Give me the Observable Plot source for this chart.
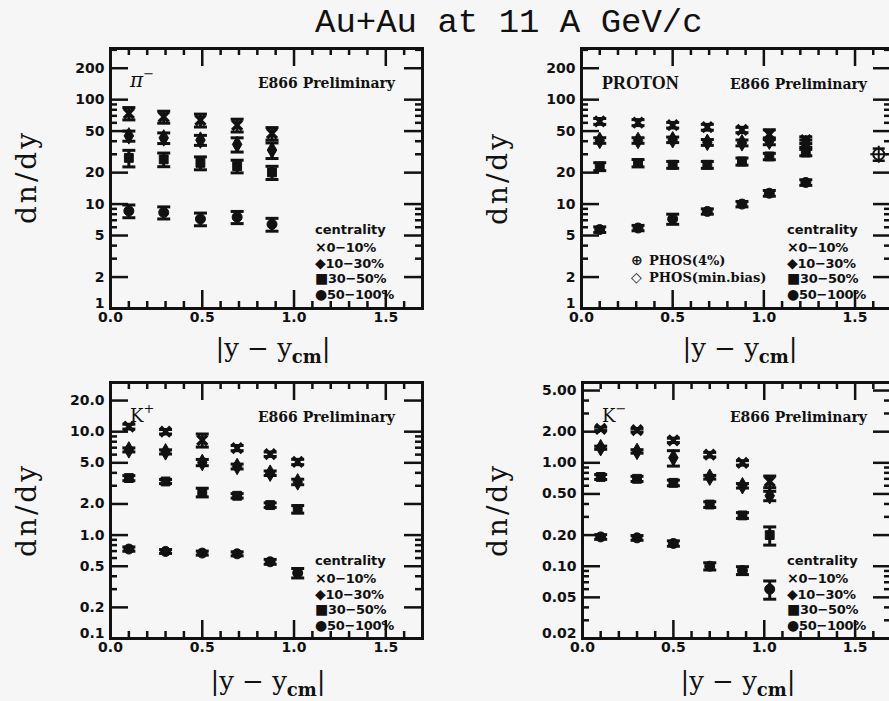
<!DOCTYPE html>
<html><head><meta charset="utf-8">
<script src="https://cdn.jsdelivr.net/npm/d3@7"></script>
<script src="https://cdn.jsdelivr.net/npm/@observablehq/plot@0.6"></script>
<style>
html,body{margin:0;padding:0;background:#f6f6f6;}
#wrap{position:relative;width:889px;height:701px;overflow:hidden;background:#f6f6f6;}
#wrap > * {position:absolute;}
</style></head><body><div id="wrap"></div>
<script>
// ---------- data ----------
const centralities = ["0−10%", "10−30%", "30−50%", "50−100%"];
const xTickLabels = [0.0, 0.5, 1.0, 1.5];
const xMajorTicks = [0.5, 1.0, 1.5];
const xMinorTicks = [0.1, 0.2, 0.3, 0.4, 0.6, 0.7, 0.8, 0.9, 1.1, 1.2, 1.3, 1.4, 1.6];

// pi-
const piX = [0.10, 0.29, 0.49, 0.69, 0.88];
const pi0 = [74, 68.5, 63.7, 57, 47.5];
const pi0Err = [10, 9, 9, 8, 6.5];
const pi1 = [45, 43, 41, 37.3, 32.9];
const pi1Err = [5, 5, 4.5, 5.8, 5.6];
const pi2 = [27.7, 26.8, 24.8, 23.1, 20.1];
const pi2Err = [5, 4, 3.5, 3.2, 2.9];
const pi3 = [8.6, 8.3, 7.2, 7.5, 6.4];
const pi3Err = [1.2, 1.1, 1.0, 1.0, 0.9];

// proton
const pX = [0.10, 0.31, 0.50, 0.69, 0.88, 1.03, 1.23];
const p0 = [62, 60.4, 57, 54.5, 51.3, 46.5, 41];
const p0Err = [4, 4, 3.5, 3.5, 3, 5, 3];
const p1 = [40.7, 40.7, 41.3, 39, 38.6, 40, 38];
const p1Err = [2.5, 2.5, 2.5, 2.5, 2.5, 3, 3];
const p2 = [22.9, 24.7, 23.8, 23.8, 25.6, 28.6, 31.2];
const p2Err = [2, 2, 1.8, 1.8, 2, 2, 2.2];
const p3 = [5.7, 5.9, 7.2, 8.5, 10.0, 12.7, 16.1];
const p3Err = [0.35, 0.35, 0.8, 0.5, 0.6, 0.8, 1.0];
const phosX = [1.63];
const phosY = [30];
const phosErr = [4];

// K+
const kpX = [0.10, 0.30, 0.50, 0.69, 0.87, 1.02];
const kp0 = [11.2, 10.0, 8.3, 6.95, 6.06, 5.1];
const kp0Err = [0.6, 0.5, 1.2, 0.4, 0.3, 0.3];
const kp1 = [6.67, 6.38, 5.04, 4.61, 3.97, 3.27];
const kp1Err = [0.3, 0.3, 0.35, 0.25, 0.2, 0.2];
const kp2 = [3.56, 3.30, 2.59, 2.40, 1.95, 1.78];
const kp2Err = [0.2, 0.15, 0.25, 0.12, 0.1, 0.15];
const kp3 = [0.733, 0.695, 0.67, 0.659, 0.552, 0.43];
const kp3Err = [0.035, 0.03, 0.03, 0.03, 0.03, 0.045];

// K-
const kmX = [0.10, 0.30, 0.50, 0.70, 0.88, 1.03];
const km0 = [2.13, 2.07, 1.65, 1.20, 1.00, 0.66];
const km0Err = [0.08, 0.08, 0.08, 0.06, 0.05, 0.085];
const km1 = [1.40, 1.29, 1.12, 0.726, 0.60, 0.48];
const km1Err = [0.05, 0.05, 0.19, 0.03, 0.03, 0.05];
const km2 = [0.73, 0.70, 0.64, 0.395, 0.31, 0.20];
const km2Err = [0.04, 0.04, 0.04, 0.025, 0.02, 0.04];
const km3 = [0.192, 0.188, 0.166, 0.10, 0.091, 0.060];
const km3Err = [0.01, 0.01, 0.01, 0.008, 0.008, 0.012];

// y axis ticks
const topYLabels = [1, 2, 5, 10, 20, 50, 100, 200];
const topYMinor = [3, 4, 6, 7, 8, 9, 30, 40, 60, 70, 80, 90, 300];
const kpYLabels = [0.1, 0.2, 0.5, 1, 2, 5, 10, 20];
const kpYMinor = [0.3, 0.4, 0.6, 0.7, 0.8, 0.9, 3, 4, 6, 7, 8, 9];
const kmYLabels = [0.02, 0.05, 0.1, 0.2, 0.5, 1, 2, 5];
const kmYMinor = [0.03, 0.04, 0.06, 0.07, 0.08, 0.09, 0.3, 0.4, 0.6, 0.7, 0.8, 0.9, 3, 4];

// ---------- drawing ----------
const ink = "#111";
const capSymbol = {draw(ctx, size) { const r = Math.sqrt(size / Math.PI); ctx.moveTo(-r, 0); ctx.lineTo(r, 0); }};

function rowsOf(x, ys, errs) {
  const rows = [];
  ys.forEach((ser, c) => ser.forEach((v, j) => {
    if (v != null) rows.push({x: x[j], y: v, lo: v - errs[c][j], hi: v + errs[c][j], c});
  }));
  return rows;
}

function panel(o) {
  const fw = o.width - o.ml - o.mr, fh = o.height - o.mt - o.mb;
  const rows = rowsOf(o.x, o.ys, o.errs);
  const marks = [
    Plot.ruleX(xMajorTicks, {x: d => d, insetTop: fh - 18, stroke: ink, strokeWidth: 2.5}),
    Plot.ruleX(xMajorTicks, {x: d => d, insetBottom: fh - 18, stroke: ink, strokeWidth: 2.5}),
    Plot.ruleX(xMinorTicks, {x: d => d, insetTop: fh - 7, stroke: ink, strokeWidth: 2.5}),
    Plot.ruleX(xMinorTicks, {x: d => d, insetBottom: fh - 7, stroke: ink, strokeWidth: 2.5}),
    Plot.ruleY(o.yLabels.slice(1), {y: d => d, insetRight: fw - 18, stroke: ink, strokeWidth: 2.5}),
    Plot.ruleY(o.yLabels.slice(1), {y: d => d, insetLeft: fw - 18, stroke: ink, strokeWidth: 2.5}),
    Plot.ruleY(o.yMinor, {y: d => d, insetRight: fw - 7, stroke: ink, strokeWidth: 2.5}),
    Plot.ruleY(o.yMinor, {y: d => d, insetLeft: fw - 7, stroke: ink, strokeWidth: 2.5}),
    Plot.ruleX(rows, {x: "x", y1: "lo", y2: "hi", stroke: ink, strokeWidth: 3}),
    Plot.dot(rows, {x: "x", y: "lo", symbol: capSymbol, r: 6.5, fill: "none", stroke: ink, strokeWidth: 3}),
    Plot.dot(rows, {x: "x", y: "hi", symbol: capSymbol, r: 6.5, fill: "none", stroke: ink, strokeWidth: 3}),
    Plot.dot(rows.filter(d => d.c === 0), {x: "x", y: "y", symbol: "times", r: 4.5, fill: "none", stroke: ink, strokeWidth: 3.5}),
    Plot.dot(rows.filter(d => d.c === 1), {x: "x", y: "y", symbol: "diamond", r: 5, fill: ink, stroke: ink, strokeWidth: 1}),
    Plot.dot(rows.filter(d => d.c === 2), {x: "x", y: "y", symbol: "square", r: 5, fill: ink, stroke: ink, strokeWidth: 1}),
    Plot.dot(rows.filter(d => d.c === 3), {x: "x", y: "y", symbol: "circle", r: 5, fill: ink, stroke: ink, strokeWidth: 1})
  ];
  if (o.phos) {
    const ph = o.phos.x.map((x, i) => ({x, y: o.phos.y[i], lo: o.phos.y[i] - o.phos.err[i], hi: o.phos.y[i] + o.phos.err[i]}));
    marks.push(
      Plot.ruleX(ph, {x: "x", y1: "lo", y2: "hi", stroke: ink, strokeWidth: 2}),
      Plot.dot(ph, {x: "x", y: "lo", symbol: capSymbol, r: 6, fill: "none", stroke: ink, strokeWidth: 2.5}),
      Plot.dot(ph, {x: "x", y: "hi", symbol: capSymbol, r: 6, fill: "none", stroke: ink, strokeWidth: 2.5}),
      Plot.dot(ph, {x: "x", y: "y", symbol: "circle", r: 5.5, fill: "#f6f6f6", stroke: ink, strokeWidth: 2}),
      Plot.dot(ph, {x: "x", y: "y", symbol: "plus", r: 5.5, fill: "none", stroke: ink, strokeWidth: 2})
    );
  }
  const lastY = o.yLabels.slice(1);
  marks.push(
    Plot.axisX({ticks: xTickLabels, tickSize: 0, tickPadding: 4, tickFormat: d3.format(".1f"), label: null}),
    // y tick labels (log scales would otherwise drop some of them)
    Plot.text(lastY, {y: d => d, text: d => o.fmt(d), frameAnchor: "left", textAnchor: "end", dx: -6, fill: ink}),
    Plot.text(o.yLabels.slice(0, 1), {y: d => d, text: d => o.fmt(d), frameAnchor: "left", textAnchor: "end", dx: -6, dy: -5, fill: ink}),
    Plot.frame({stroke: ink, strokeWidth: 3})
  );
  const svg = Plot.plot({
    width: o.width, height: o.height,
    marginLeft: o.ml, marginRight: o.mr, marginTop: o.mt, marginBottom: o.mb,
    x: {domain: [0, 1.7]},
    y: {type: "log", domain: o.yDomain, axis: null},
    style: {background: "transparent", color: ink, fontFamily: "DejaVu Sans", fontSize: "14px", fontWeight: "bold", overflow: "visible"},
    marks
  });
  svg.style.left = o.left + "px";
  svg.style.top = o.top + "px";
  svg.style.maxWidth = "none";
  return svg;
}

const wrap = document.getElementById("wrap");
wrap.appendChild(panel({left: 0, top: 18, width: 440, height: 330, ml: 110, mr: 18, mt: 30, mb: 40,
  x: piX, ys: [pi0, pi1, pi2, pi3], errs: [pi0Err, pi1Err, pi2Err, pi3Err],
  yDomain: [1, 309], yLabels: topYLabels, yMinor: topYMinor, fmt: d3.format("d")}));
wrap.appendChild(panel({left: 440, top: 18, width: 460, height: 330, ml: 141, mr: 9, mt: 30, mb: 40,
  x: pX, ys: [p0, p1, p2, p3], errs: [p0Err, p1Err, p2Err, p3Err],
  phos: {x: phosX, y: phosY, err: phosErr},
  yDomain: [1, 309], yLabels: topYLabels, yMinor: topYMinor, fmt: d3.format("d")}));
wrap.appendChild(panel({left: 0, top: 350, width: 440, height: 340, ml: 110, mr: 18, mt: 32, mb: 52,
  x: kpX, ys: [kp0, kp1, kp2, kp3], errs: [kp0Err, kp1Err, kp2Err, kp3Err],
  yDomain: [0.1, 29.9], yLabels: kpYLabels, yMinor: kpYMinor, fmt: d3.format(".1f")}));
wrap.appendChild(panel({left: 440, top: 350, width: 460, height: 340, ml: 142, mr: 9, mt: 32, mb: 52,
  x: kmX, ys: [km0, km1, km2, km3], errs: [km0Err, km1Err, km2Err, km3Err],
  yDomain: [0.02, 5.98], yLabels: kmYLabels, yMinor: kmYMinor, fmt: d3.format(".2f")}));

// ---------- text overlay ----------
const NS = "http://www.w3.org/2000/svg";
const ov = document.createElementNS(NS, "svg");
ov.setAttribute("width", 889); ov.setAttribute("height", 701);
ov.style.left = "0px"; ov.style.top = "0px"; ov.style.pointerEvents = "none";
wrap.appendChild(ov);
function txt(x, y, parts, attrs) {
  const t = document.createElementNS(NS, "text");
  t.setAttribute("x", x); t.setAttribute("y", y); t.setAttribute("fill", ink);
  for (const k in attrs) t.setAttribute(k, attrs[k]);
  for (const p of parts) {
    if (typeof p === "string") t.appendChild(document.createTextNode(p));
    else {
      const s = document.createElementNS(NS, "tspan");
      for (const k in p) if (k !== "text") s.setAttribute(k, p[k]);
      s.textContent = p.text;
      t.appendChild(s);
    }
  }
  ov.appendChild(t);
  return t;
}
const titleText = "Au+Au at 11 A GeV/c";
txt(315, 32, [titleText], {"font-family": "Liberation Mono", "font-size": 34});

const yLabelText = "dn/dy";
for (const [cx, cy] of [[26, 177], [497, 178], [26, 510], [497, 510]]) {
  txt(0, 0, [yLabelText], {"font-family": "DejaVu Serif", "font-size": 28, "letter-spacing": 3,
    "text-anchor": "middle", "dominant-baseline": "central", transform: `translate(${cx},${cy}) rotate(-90)`});
}
for (const [cx, by] of [[273, 357], [740, 357], [268, 690], [738, 690]]) {
  txt(cx, by, ["|y − y", {text: "cm", dy: 6, "font-size": 18, "font-weight": "bold"}, {text: "|", dy: -6}],
    {"font-family": "DejaVu Serif", "font-size": 26, "text-anchor": "middle"});
}
const prelim = "E866 Preliminary";
for (const [rx, by] of [[395, 88], [867, 89], [395, 422], [867, 422]]) {
  txt(rx, by, [prelim], {"font-family": "DejaVu Serif", "font-size": 14, "font-weight": "bold", "text-anchor": "end"});
}
txt(130, 87, ["π", {text: "−", dy: -9, "font-size": 13}], {"font-family": "DejaVu Serif", "font-size": 20, "font-style": "italic"});
txt(602, 89, ["PROTON"], {"font-family": "Liberation Serif", "font-size": 18, "font-weight": "bold"});
txt(130, 422, ["K", {text: "+", dy: -9, "font-size": 13}], {"font-family": "DejaVu Serif", "font-size": 18});
txt(602, 422, ["K", {text: "−", dy: -9, "font-size": 13}], {"font-family": "DejaVu Serif", "font-size": 18});

const legendTitle = "centrality";
const legendGlyphs = ["×", "◆", "■", "●"];
function centralityLegend(x, y0) {
  txt(x, y0, [legendTitle], {"font-family": "DejaVu Sans", "font-size": 13, "font-weight": "bold"});
  centralities.forEach((c, i) => {
    txt(x, y0 + 18 + i * 15.5, [{text: legendGlyphs[i], "font-size": 14}, c], {"font-family": "DejaVu Sans", "font-size": 13, "font-weight": "bold", "letter-spacing": -0.3});
  });
}
centralityLegend(315, 234);
centralityLegend(787, 234);
centralityLegend(315, 565);
centralityLegend(787, 565);
const phosLabels = ["PHOS(4%)", "PHOS(min.bias)"];
txt(631, 265, ["⊕"], {"font-family": "DejaVu Sans", "font-size": 14, "font-weight": "bold"});
txt(649, 265, [phosLabels[0]], {"font-family": "DejaVu Serif", "font-size": 13, "font-weight": "bold"});
txt(631, 282, ["◇"], {"font-family": "DejaVu Sans", "font-size": 14, "font-weight": "bold"});
txt(649, 282, [phosLabels[1]], {"font-family": "DejaVu Serif", "font-size": 13, "font-weight": "bold"});
</script></body></html>
